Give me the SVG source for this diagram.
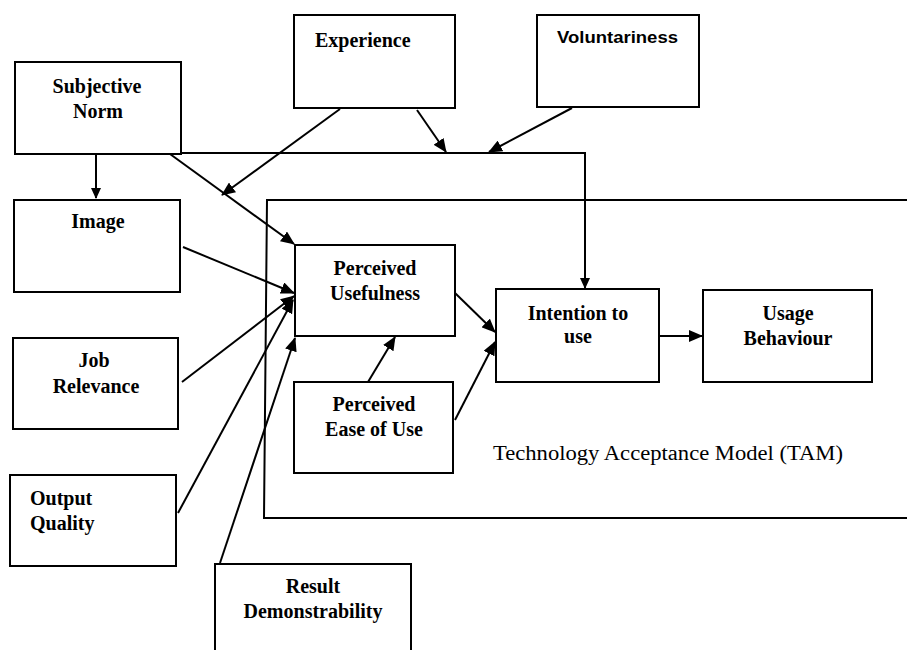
<svg xmlns="http://www.w3.org/2000/svg" width="907" height="650" viewBox="0 0 907 650">
  <style>
    .box { fill: #fff; stroke: #000; stroke-width: 2; }
    .edge { fill: none; stroke: #000; stroke-width: 2; }
    .lbl { font-family: "Liberation Serif", "Times New Roman", serif; font-weight: bold; font-size: 20px; fill: #000; text-anchor: middle; }
    .lbl-left { text-anchor: start; }
    .sans { font-family: "Liberation Sans", Arial, sans-serif; font-size: 17px; }
    .title { font-family: "Liberation Serif", "Times New Roman", serif; font-size: 20px; fill: #000; }
  </style>
  <defs>
    <marker id="arrow" markerUnits="userSpaceOnUse" markerWidth="14" markerHeight="12" refX="13" refY="6" orient="auto">
      <path d="M0,0 L14,6 L0,12 z" fill="#000"/>
    </marker>
    <marker id="arrow-sm" markerUnits="userSpaceOnUse" markerWidth="11" markerHeight="10" refX="10" refY="5" orient="auto">
      <path d="M0,0 L11,5 L0,10 z" fill="#000"/>
    </marker>
  </defs>
  <rect width="907" height="650" fill="#fff"/>

  <!-- TAM frame, open on the right -->
  <g id="tam-frame">
    <path class="edge" d="M907,200 L267,200 L264,518 L907,518"/>
    <text class="title" x="493" y="460" textLength="350" lengthAdjust="spacingAndGlyphs">Technology Acceptance Model (TAM)</text>
  </g>

  <g id="connectors">
    <line class="edge" x1="96" y1="154" x2="96" y2="198" marker-end="url(#arrow-sm)"/>
    <line class="edge" x1="170" y1="154" x2="294" y2="244" marker-end="url(#arrow)"/>
    <line class="edge" x1="340" y1="109" x2="222" y2="195" marker-end="url(#arrow)"/>
    <line class="edge" x1="417" y1="110" x2="446" y2="152" marker-end="url(#arrow)"/>
    <line class="edge" x1="572" y1="108" x2="489" y2="152" marker-end="url(#arrow)"/>
    <polyline class="edge" points="181,153 585,153 585,288" marker-end="url(#arrow-sm)"/>
    <line class="edge" x1="183" y1="247" x2="294" y2="293" marker-end="url(#arrow)"/>
    <line class="edge" x1="182" y1="382" x2="294" y2="296" marker-end="url(#arrow)"/>
    <line class="edge" x1="178" y1="513" x2="293" y2="300" marker-end="url(#arrow)"/>
    <line class="edge" x1="220" y1="563" x2="295" y2="338" marker-end="url(#arrow)"/>
    <line class="edge" x1="368" y1="382" x2="395" y2="337" marker-end="url(#arrow)"/>
    <line class="edge" x1="455" y1="293" x2="495" y2="332" marker-end="url(#arrow)"/>
    <line class="edge" x1="455" y1="420" x2="495" y2="342" marker-end="url(#arrow)"/>
    <line class="edge" x1="659" y1="336" x2="702" y2="336" marker-end="url(#arrow)"/>
  </g>

  <g id="subjective-norm">
    <rect class="box" x="15" y="62" width="166" height="92"/>
    <text class="lbl" x="97" y="93">Subjective</text>
    <text class="lbl" x="98" y="118">Norm</text>
  </g>

  <g id="experience">
    <rect class="box" x="294" y="15" width="161" height="93"/>
    <text class="lbl lbl-left" x="315" y="47">Experience</text>
  </g>

  <g id="voluntariness">
    <rect class="box" x="537" y="15" width="162" height="92"/>
    <text class="lbl lbl-left sans" x="557" y="43" textLength="121" lengthAdjust="spacingAndGlyphs">Voluntariness</text>
  </g>

  <g id="image">
    <rect class="box" x="14" y="200" width="166" height="92"/>
    <text class="lbl" x="98" y="228">Image</text>
  </g>

  <g id="job-relevance">
    <rect class="box" x="13" y="338" width="165" height="91"/>
    <text class="lbl" x="94" y="367">Job</text>
    <text class="lbl" x="96" y="393">Relevance</text>
  </g>

  <g id="output-quality">
    <rect class="box" x="10" y="475" width="166" height="91"/>
    <text class="lbl lbl-left" x="30" y="505">Output</text>
    <text class="lbl lbl-left" x="30" y="530">Quality</text>
  </g>

  <g id="result-demonstrability">
    <rect class="box" x="215" y="564" width="196" height="100"/>
    <text class="lbl" x="313" y="593">Result</text>
    <text class="lbl" x="313" y="618">Demonstrability</text>
  </g>

  <g id="perceived-usefulness">
    <rect class="box" x="295" y="245" width="160" height="91"/>
    <text class="lbl" x="375" y="275">Perceived</text>
    <text class="lbl" x="375" y="300">Usefulness</text>
  </g>

  <g id="perceived-ease-of-use">
    <rect class="box" x="294" y="382" width="159" height="91"/>
    <text class="lbl" x="374" y="411">Perceived</text>
    <text class="lbl" x="374" y="436">Ease of Use</text>
  </g>

  <g id="intention-to-use">
    <rect class="box" x="496" y="289" width="163" height="93"/>
    <text class="lbl" x="578" y="320">Intention to</text>
    <text class="lbl" x="578" y="343">use</text>
  </g>

  <g id="usage-behaviour">
    <rect class="box" x="703" y="290" width="169" height="92"/>
    <text class="lbl" x="788" y="320">Usage</text>
    <text class="lbl" x="788" y="345">Behaviour</text>
  </g>
</svg>
